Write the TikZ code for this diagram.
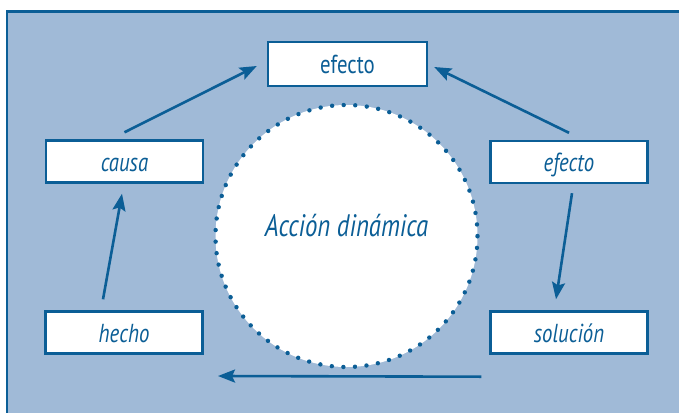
\documentclass[tikz,border=0pt]{standalone}
\usepackage{fontspec}
\setmainfont{PT Sans}[FakeStretch=0.8]
\usetikzlibrary{arrows.meta}
\definecolor{panel}{HTML}{A0BAD7}
\definecolor{ink}{HTML}{0B5E96}
\tikzset{
  card/.style={draw=ink, line width=2.4pt, fill=white, minimum width=157pt,
    minimum height=42pt, inner sep=0pt, text height=19pt, text depth=0pt,
    text=ink, font=\fontsize{26}{28}\selectfont\itshape},
  flow/.style={draw=ink, line width=2.6pt,
    -{Stealth[length=17pt, width=13pt, inset=3pt]}},
}
\begin{document}
\begin{tikzpicture}[x=1pt, y=-1pt]
  \useasboundingbox (0,0) rectangle (679,412);
  \clip (0,0) rectangle (679,412);
  \fill[white] (0,0) rectangle (679,412);
  % framed panel
  \draw[ink, line width=2.6pt, fill=panel] (7,11.5) rectangle (700,430);

  % central dotted circle
  \node[circle, minimum size=262pt, inner sep=0pt, fill=white] (hub) at (346.5,236) {};
  \draw[ink, line width=4.4pt, line cap=round, dash pattern=on 0pt off 11.59pt]
    (hub.center) circle[radius=131pt];
  \node[text=ink, font=\fontsize{31}{33}\selectfont\itshape] (hubtext) at (346.5,226) {Acción dinámica};

  % boxes
  \node[card, font=\fontsize{26}{28}\selectfont\upshape, minimum width=159pt, minimum height=44pt] (top) at (347.5,64) {efecto};
  \node[card] (causa) at (124.5,161.5) {causa};
  \node[card] (efecto) at (569,162) {efecto};
  \node[card] (hecho) at (124,332.5) {hecho};
  \node[card] (solucion) at (569,332.5) {solución};

  % cycle of arrows
  \coordinate (loopend) at (218,376);
  \draw[flow] ([yshift=7pt]causa.north) -- ([xshift=-10pt,yshift=-2pt]top.west);
  \draw[flow] ([yshift=7pt]efecto.north) -- ([xshift=6pt,yshift=-3pt]top.east);
  \draw[flow] ([xshift=3pt,yshift=-9pt]efecto.south) -- ([xshift=-13pt,yshift=11pt]solucion.north);
  \draw[flow] ([xshift=-21pt,yshift=11pt]hecho.north) -- ([xshift=-2.5pt,yshift=-10pt]causa.south);
  \draw[flow] ([xshift=-8pt,yshift=-22pt]solucion.south west) -- (loopend);
\end{tikzpicture}
\end{document}
